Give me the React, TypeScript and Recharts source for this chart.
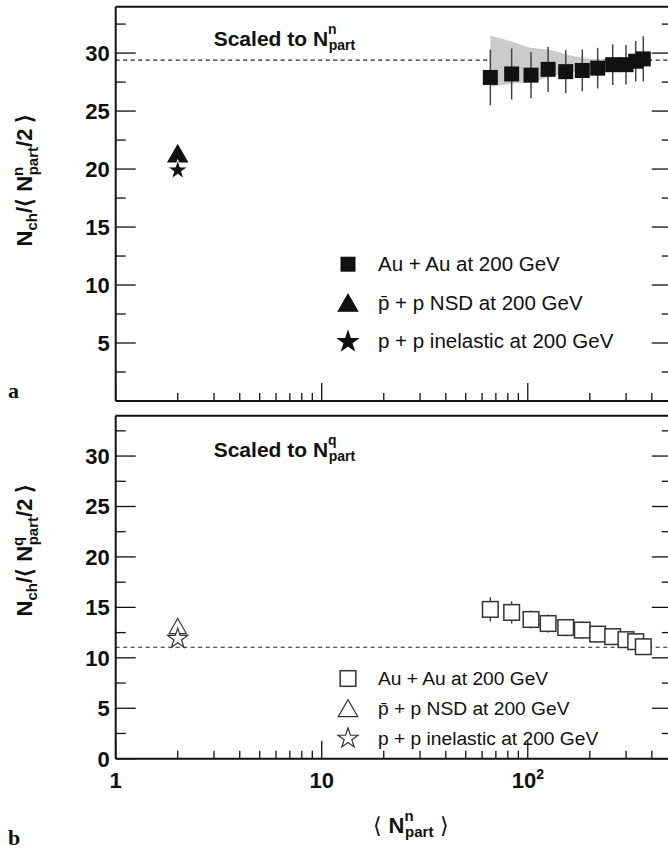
import React from 'react';
import { ComposedChart, Scatter, Area, XAxis, YAxis, ReferenceLine, ErrorBar, Symbols } from 'recharts';

// centrality bins (<N_part>) for Au+Au at 200 GeV
const NPART = [65.8, 83.5, 103.7, 125.5, 152.8, 183.9, 218.4, 258.3, 299.6, 334, 363.6];
const AUAU_N = [27.9, 28.2, 28.1, 28.6, 28.4, 28.5, 28.7, 29.0, 29.0, 29.3, 29.5];
const AUAU_N_ERR = [2.4, 2.2, 2.0, 1.95, 1.85, 1.8, 1.75, 1.75, 1.7, 1.75, 1.95];
const AUAU_Q = [14.8, 14.5, 13.8, 13.4, 13.0, 12.75, 12.35, 12.1, 11.8, 11.6, 11.1];
const AUAU_Q_ERR = [1.2, 1.1, 0.9, 0.9, 0.85, 0.85, 0.7, 0.7, 0.7, 0.7, 0.7];

// grey band in panel a
const BAND_X = [65.8, 83.5, 103.7, 125.5, 152.8, 183.9, 218.4, 258.3];
const BAND_LO = [27.1, 27.35, 27.5, 27.9, 28.3, 28.5, 28.95, 29.35];
const BAND_HI = [31.5, 31.0, 30.45, 30.3, 29.9, 29.6, 29.45, 29.4];

// p+p / pbar+p points, at <N_part> = 2 ; [panel a, panel b]
const PP_X = 2;
const PPBAR_NSD = [21.1, 12.9];
const PP_INEL = [19.9, 11.9];

// dashed reference levels
const REF_LEVEL = [29.4, 11.05];

const X_MAJOR = [1, 10, 100];
const X_MINOR = [2, 3, 4, 5, 6, 7, 8, 9, 20, 30, 40, 50, 60, 70, 80, 90, 200, 300, 400, 500];
const Y_MAJOR = [0, 5, 10, 15, 20, 25, 30];
const Y_MINOR = [2.5, 7.5, 12.5, 17.5, 22.5, 27.5, 32.5];
const Y_LABELS_A = [5, 10, 15, 20, 25, 30];
const Y_LABELS_B = [0, 5, 10, 15, 20, 25, 30];

const X_TICKS = [...X_MAJOR, ...X_MINOR].sort((a, b) => a - b);
const Y_TICKS = [...Y_MAJOR, ...Y_MINOR].sort((a, b) => a - b);

const X_DOMAIN: [number, number] = [1, 500];
const Y_DOMAIN: [number, number] = [0, 34];

const FONT = '"Liberation Sans", Arial, Helvetica, sans-serif';
const INK = '#111';
const AXIS_LINE = { stroke: INK, strokeWidth: 2 };

const auauA = NPART.map((x, i) => ({ x, y: AUAU_N[i], err: AUAU_N_ERR[i] }));
const auauB = NPART.map((x, i) => ({ x, y: AUAU_Q[i], err: AUAU_Q_ERR[i] }));
const band = BAND_X.map((x, i) => ({ x, range: [BAND_LO[i], BAND_HI[i]] }));

// tick renderers: line drawn inward from the frame, label outside
const xTick = (dir: number, labels: boolean) => (p: any) => {
  const v = p.payload.value;
  const major = X_MAJOR.includes(v);
  return (
    <g>
      <line x1={p.x} x2={p.x} y1={p.y} y2={p.y + dir * (major ? 18 : 8)} stroke={INK} strokeWidth={1.3} />
      {labels && major && (
        <text x={p.x} y={p.y + 29} textAnchor="middle" fontFamily={FONT} fontWeight="bold" fontSize={22} fill={INK}>
          {v === 100 ? (
            <>
              10<tspan dy={-9} fontSize={14}>2</tspan>
            </>
          ) : (
            v
          )}
        </text>
      )}
    </g>
  );
};

const yTick = (dir: number, labels: number[]) => (p: any) => {
  const v = p.payload.value;
  const major = Y_MAJOR.includes(v);
  return (
    <g>
      <line x1={p.x} x2={p.x + dir * (major ? 20 : 10)} y1={p.y} y2={p.y} stroke={INK} strokeWidth={1.3} />
      {labels.includes(v) && (
        <text x={p.x - 6} y={p.y + 8} textAnchor="end" fontFamily={FONT} fontWeight="bold" fontSize={22} fill={INK}>
          {v}
        </text>
      )}
    </g>
  );
};

const filledSquare = (p: any) => <rect x={p.cx - 7.5} y={p.cy - 7.5} width={15} height={15} fill={INK} />;
const openSquare = (p: any) => (
  <rect x={p.cx - 7.8} y={p.cy - 7.8} width={15.6} height={15.6} fill="#fff" stroke="#333" strokeWidth={1.5} />
);
const symbol = (type: any, size: number, fill: string, stroke: string, sw = 1.2) => (p: any) =>
  <Symbols cx={p.cx} cy={p.cy} type={type} size={size} sizeType="area" fill={fill} stroke={stroke} strokeWidth={sw} />;

const frameAxes = (xLabels: boolean, yLabels: number[]) => [
  <XAxis key="xb" xAxisId="xb" dataKey="x" type="number" scale="log" domain={X_DOMAIN} allowDataOverflow
    ticks={X_TICKS} interval={0} orientation="bottom" height={1} tickSize={0} tickMargin={0}
    tick={xTick(-1, xLabels)} tickLine={false} axisLine={AXIS_LINE} />,
  <XAxis key="xt" xAxisId="xt" type="number" scale="log" domain={X_DOMAIN} allowDataOverflow
    ticks={X_TICKS} interval={0} orientation="top" height={1} tickSize={0} tickMargin={0}
    tick={xTick(1, false)} tickLine={false} axisLine={AXIS_LINE} />,
  <YAxis key="yl" yAxisId="yl" dataKey="y" type="number" domain={Y_DOMAIN} allowDataOverflow
    ticks={Y_TICKS} interval={0} orientation="left" width={100} tickSize={0} tickMargin={0}
    tick={yTick(1, yLabels)} tickLine={false} axisLine={AXIS_LINE} />,
  <YAxis key="yr" yAxisId="yr" type="number" domain={Y_DOMAIN} allowDataOverflow
    ticks={Y_TICKS} interval={0} orientation="right" width={1} tickSize={0} tickMargin={0}
    tick={yTick(-1, [])} tickLine={false} axisLine={AXIS_LINE} />,
];

const ids = { xAxisId: 'xb', yAxisId: 'yl' };

const Legend = ({ y, filled, gap, size }: { y: number; filled: boolean; gap: number; size: number }) => {
  const fill = filled ? INK : '#fff';
  const rows = [
    { label: 'Au + Au at 200 GeV', mark: filled ? filledSquare : openSquare, dy: -6.5 },
    { label: 'p\u0304 + p NSD at 200 GeV', mark: symbol('triangle', 165, fill, filled ? INK : '#333'), dy: -4 },
    { label: 'p + p inelastic at 200 GeV', mark: symbol('star', 124, fill, filled ? INK : '#333'), dy: -6.5 },
  ];
  return (
    <g>
      {rows.map((r, i) => (
        <g key={i}>
          {r.mark({ cx: 348, cy: y + i * gap + r.dy })}
          <text x={378} y={y + i * gap} fontFamily={FONT} fontSize={size} fill={INK}>{r.label}</text>
        </g>
      ))}
    </g>
  );
};

const YTitle = ({ y, sup }: { y: number; sup: string }) => (
  <text transform={`translate(32,${y}) rotate(-90)`} textAnchor="middle" fontFamily={FONT} fontWeight="bold" fontSize={22} fill={INK}>
    N<tspan dy={5} fontSize={15}>ch</tspan>
    <tspan dy={-5}>/{'\u27e8'} N</tspan>
    <tspan dy={-9} fontSize={15}>{sup}</tspan>
    <tspan dx={-8.5} dy={15} fontSize={15}>part</tspan>
    <tspan dy={-6}>/2 {'\u27e9'}</tspan>
  </text>
);

const PanelTitle = ({ y, sup }: { y: number; sup: string }) => (
  <text x={213.7} y={y} fontFamily={FONT} fontWeight="bold" fontSize={21} fill={INK}>
    Scaled to N<tspan dy={-12} fontSize={14}>{sup}</tspan>
    <tspan dx={-8} dy={16} fontSize={14}>part</tspan>
  </text>
);

export default function App() {
  return (
    <div style={{ position: 'absolute', left: 0, top: 0, width: 668, height: 849, overflow: 'hidden', background: '#fff' }}>
      <div style={{ position: 'absolute', left: 0, top: 0 }}>
        <ComposedChart width={700} height={410} margin={{ top: 5.7, right: 27.2, bottom: 8, left: 15.7 }}>
          {frameAxes(false, Y_LABELS_A)}
          <ReferenceLine {...ids} y={REF_LEVEL[0]} stroke="#222" strokeWidth={1.2} strokeDasharray="4 3.5" {...({ zIndex: 50 } as any)} />
          <Area {...ids} data={band} dataKey="range" type="monotone" stroke="none" fill="#cbcbcb" fillOpacity={1} isAnimationActive={false} />
          <Scatter {...ids} data={auauA} shape={filledSquare} isAnimationActive={false}>
            <ErrorBar dataKey="err" direction="y" width={0} stroke="#444" strokeWidth={1.5} />
          </Scatter>
          <Scatter {...ids} data={[{ x: PP_X, y: PPBAR_NSD[0] }]} shape={symbol('triangle', 165, INK, INK)} isAnimationActive={false} />
          <Scatter {...ids} data={[{ x: PP_X, y: PP_INEL[0] }]} shape={symbol('star', 124, INK, '#fff', 1)} isAnimationActive={false} />
        </ComposedChart>
      </div>
      <div style={{ position: 'absolute', left: 0, top: 410 }}>
        <ComposedChart width={700} height={439} margin={{ top: 4.7, right: 27.2, bottom: 89.3, left: 15.7 }}>
          {frameAxes(true, Y_LABELS_B)}
          <ReferenceLine {...ids} y={REF_LEVEL[1]} stroke="#222" strokeWidth={1.2} strokeDasharray="4 3.5" {...({ zIndex: 50 } as any)} />
          <Scatter {...ids} data={auauB} shape={openSquare} isAnimationActive={false}>
            <ErrorBar dataKey="err" direction="y" width={0} stroke="#333" strokeWidth={1.3} />
          </Scatter>
          <Scatter {...ids} data={[{ x: PP_X, y: PPBAR_NSD[1] }]} shape={symbol('triangle', 130, 'none', '#333')} isAnimationActive={false} />
          <Scatter {...ids} data={[{ x: PP_X, y: PP_INEL[1] }]} shape={symbol('star', 124, '#fff', '#333')} isAnimationActive={false} />
        </ComposedChart>
      </div>
      <svg width={668} height={849} style={{ position: 'absolute', left: 0, top: 0, pointerEvents: 'none' }}>
        <YTitle y={180} sup="n" />
        <YTitle y={550} sup="q" />
        <PanelTitle y={46} sup="n" />
        <PanelTitle y={456.7} sup="q" />
        <Legend y={270.7} filled gap={38.8} size={20.5} />
        <Legend y={685} filled={false} gap={30} size={19.2} />
        <text x={8} y={398} fontFamily='"Liberation Serif", "Times New Roman", serif' fontWeight="bold" fontSize={22} fill={INK}>a</text>
        <text x={8} y={845} fontFamily='"Liberation Serif", "Times New Roman", serif' fontWeight="bold" fontSize={22} fill={INK}>b</text>
        <text x={411} y={833} textAnchor="middle" fontFamily={FONT} fontSize={22} fill={INK}>
          {'\u27e8'} <tspan fontWeight="bold">N</tspan>
          <tspan dy={-12} fontSize={15} fontWeight="bold">n</tspan>
          <tspan dx={-8.5} dy={16} fontSize={15} fontWeight="bold">part</tspan>
          <tspan dy={-4}> {'\u27e9'}</tspan>
        </text>
      </svg>
    </div>
  );
}
